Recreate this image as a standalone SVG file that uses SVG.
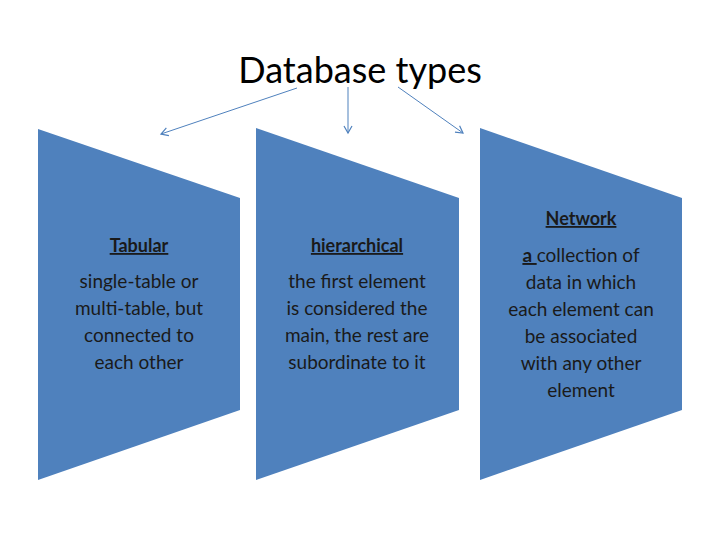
<svg xmlns="http://www.w3.org/2000/svg" width="720" height="540" viewBox="0 0 720 540">
<style>
.s{fill:#4f81bd}
.t{font-family:Lato,"Open Sans",sans-serif;font-size:19px;fill:#1a1a1a;text-anchor:middle}
.h{font-weight:bold;text-decoration:underline;font-size:18px}
.c{stroke:#4f81bd;stroke-width:1;fill:none}
</style>
<defs><marker id="a" markerWidth="10" markerHeight="10" refX="8" refY="5" orient="auto" markerUnits="userSpaceOnUse"><path d="M1,1 L8,5 L1,9" fill="none" stroke="#4f81bd" stroke-width="1.2"/></marker></defs>
<rect width="720" height="540" fill="#fff"/>
<text x="360" y="83" style="font-family:Lato,'Open Sans',sans-serif;font-size:36px;text-anchor:middle;fill:#000">Database types</text>
<g id="connectors" class="c">
<line x1="297" y1="88" x2="161" y2="134" marker-end="url(#a)"/>
<line x1="348" y1="87" x2="348" y2="133" marker-end="url(#a)"/>
<line x1="398" y1="87" x2="463" y2="133" marker-end="url(#a)"/>
</g>
<g id="tabular">
<polygon class="s" points="38,129 240,198 240,410 38,480"/>
<text class="t h" x="139" y="252">Tabular</text>
<text class="t" x="139" y="288">single-table or</text>
<text class="t" x="139" y="315">multi-table, but</text>
<text class="t" x="139" y="342">connected to</text>
<text class="t" x="139" y="369">each other</text>
</g>
<g id="hierarchical">
<polygon class="s" points="256,128 459,198 459,410 256,480"/>
<text class="t h" x="357" y="252">hierarchical </text>
<text class="t" x="357" y="288">the first element</text>
<text class="t" x="357" y="315">is considered the</text>
<text class="t" x="357" y="342">main, the rest are</text>
<text class="t" x="357" y="369">subordinate to it</text>
</g>
<g id="network">
<polygon class="s" points="480,128 682,198 682,410 480,480"/>
<text class="t h" x="581" y="225">Network </text>
<text class="t" x="581" y="262"><tspan style="font-weight:bold;text-decoration:underline">a </tspan>collection of</text>
<text class="t" x="581" y="289">data in which</text>
<text class="t" x="581" y="316">each element can</text>
<text class="t" x="581" y="343">be associated</text>
<text class="t" x="581" y="370">with any other</text>
<text class="t" x="581" y="397">element</text>
</g>
</svg>
